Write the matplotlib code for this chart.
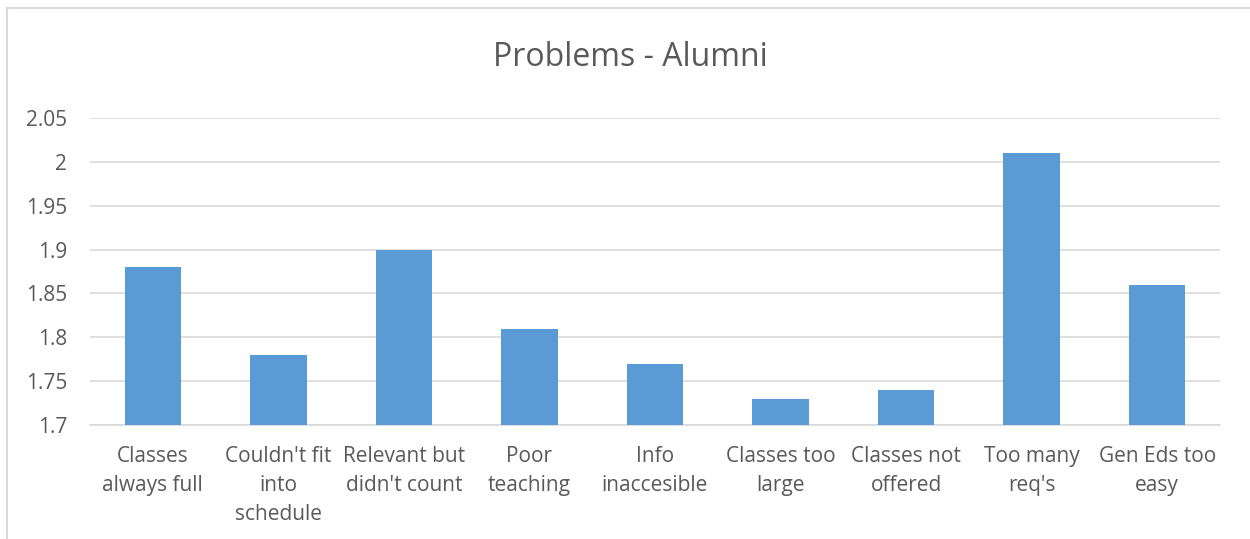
import matplotlib
matplotlib.use("Agg")
import matplotlib.pyplot as plt
from matplotlib.lines import Line2D

categories = [
    "Classes\nalways full",
    "Couldn't fit\ninto\nschedule",
    "Relevant but\ndidn't count",
    "Poor\nteaching",
    "Info\ninaccesible",
    "Classes too\nlarge",
    "Classes not\noffered",
    "Too many\nreq's",
    "Gen Eds too\neasy",
]
values = [1.88, 1.78, 1.90, 1.81, 1.77, 1.73, 1.74, 2.01, 1.86]
yticks = [1.7, 1.75, 1.8, 1.85, 1.9, 1.95, 2.0, 2.05]
ytick_labels = ["1.7", "1.75", "1.8", "1.85", "1.9", "1.95", "2", "2.05"]

plt.rcParams["font.family"] = ["Open Sans", "DejaVu Sans"]

fig = plt.figure(figsize=(12.5, 5.39), dpi=100)
ax = fig.add_axes([90 / 1250, 1 - 425 / 539, 1130 / 1250, 307 / 539])

x = range(len(categories))
ax.bar(x, values, width=0.45, color="#5B9BD5", zorder=3)

ax.set_xlim(-0.5, len(categories) - 0.5)
ax.set_ylim(1.7, 2.05)
ax.set_yticks(yticks)
ax.set_yticklabels(ytick_labels)
ax.set_xticks(list(x))
ax.set_xticklabels(categories, linespacing=1.5)
ax.grid(axis="y", color="#D9D9D9", linewidth=1.2, zorder=0)
ax.tick_params(axis="both", length=0, labelsize=15, colors="#595959")
ax.tick_params(axis="x", pad=15)
ax.tick_params(axis="y", pad=16.5)
for side in ["top", "right", "left"]:
    ax.spines[side].set_visible(False)
ax.spines["bottom"].set_color("#D9D9D9")
ax.spines["bottom"].set_linewidth(1.2)

fig.text(630 / 1250, 1 - 58 / 539, "Problems - Alumni", ha="center", va="center",
         fontsize=23, color="#595959")

# chart area border (left and top)
fig.add_artist(Line2D([7 / 1250, 7 / 1250], [0, 1 - 8 / 539], color="#D9D9D9",
                      linewidth=1.5, transform=fig.transFigure))
fig.add_artist(Line2D([7 / 1250, 1], [1 - 8 / 539, 1 - 8 / 539], color="#D9D9D9",
                      linewidth=1.5, transform=fig.transFigure))

fig.savefig("out.png", dpi=100)
